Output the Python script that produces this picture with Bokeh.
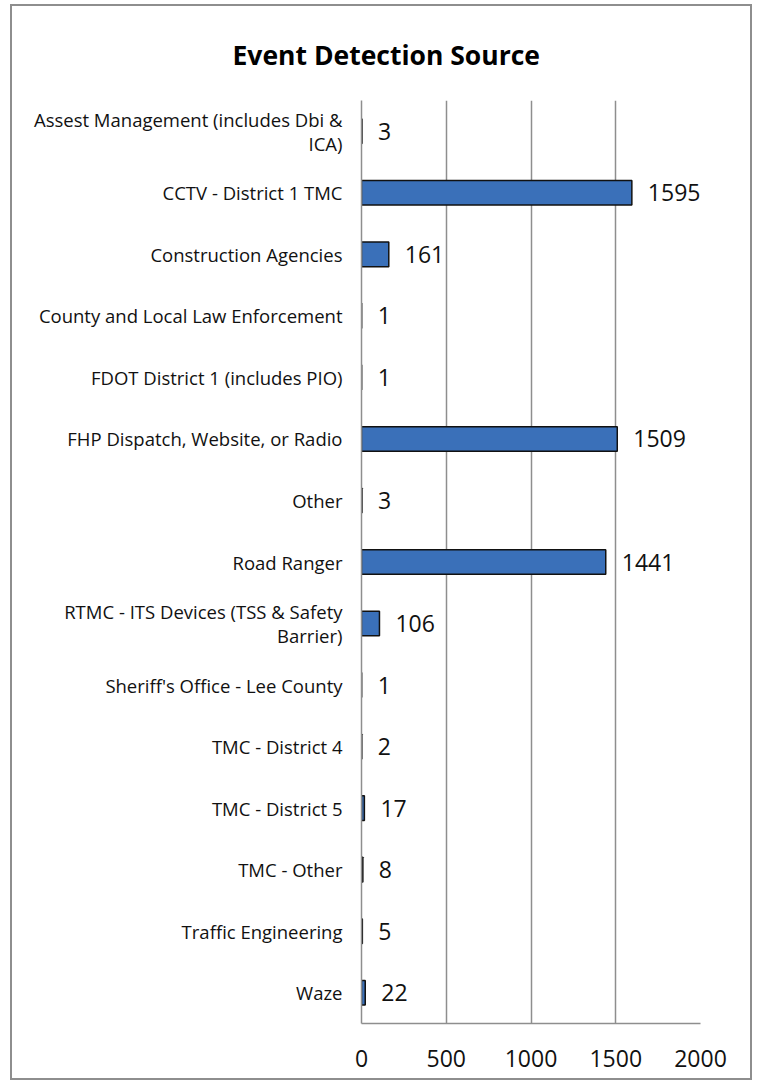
from bokeh.plotting import figure
from bokeh.models import ColumnDataSource, FactorRange, Range1d, FixedTicker
from bokeh.embed import file_html
from bokeh.resources import INLINE
from bokeh.core.properties import value

categories = [
    "Assest Management (includes Dbi &\nICA)",
    "CCTV - District 1 TMC",
    "Construction Agencies",
    "County and Local Law Enforcement",
    "FDOT District 1 (includes PIO)",
    "FHP Dispatch, Website, or Radio",
    "Other",
    "Road Ranger",
    "RTMC - ITS Devices (TSS & Safety\nBarrier)",
    "Sheriff's Office - Lee County",
    "TMC - District 4",
    "TMC - District 5",
    "TMC - Other",
    "Traffic Engineering",
    "Waze",
]
counts = [3, 1595, 161, 1, 1, 1509, 3, 1441, 106, 1, 2, 17, 8, 5, 22]
x_ticks = [0, 500, 1000, 1500, 2000]
title_text = "Event Detection Source"

FONT = "Open Sans"

src = ColumnDataSource(dict(cat=categories, val=counts, lab=[str(v) for v in counts]))

p = figure(
    width=742, height=1076,
    y_range=FactorRange(factors=list(reversed(categories)), range_padding=0),
    x_range=Range1d(0, 2000),
    output_backend="svg", toolbar_location=None,
    min_border_left=349, min_border_right=54, min_border_top=94, min_border_bottom=59,
    title=title_text,
)
p.margin = (4, 0, 0, 10)
p.title.align = "left"
p.title.offset = -129
p.title.standoff = 55
p.title.text_font = FONT
p.title.text_font_size = "26.5px"
p.title.text_font_style = "bold"
p.title.text_color = "#000000"
p.outline_line_color = None
p.background_fill_color = "white"
p.border_fill_color = "white"
p.styles = {"border": "2px solid #8e8e8e"}

p.hbar(y="cat", right="val", left=0, height=0.4, source=src,
       fill_color="#3a70b9", line_color="#111111", line_width=1.5)

p.text(x="val", y="cat", text="lab", source=src, x_offset=16,
       text_align="left", text_baseline="middle",
       text_font=value(FONT), text_font_size="23px", text_color="#111111")

p.xgrid.ticker = FixedTicker(ticks=x_ticks)
p.xgrid.grid_line_color = "#8e8e8e"
p.xgrid.grid_line_width = 1.5
p.ygrid.grid_line_color = None

p.xaxis.ticker = FixedTicker(ticks=x_ticks)
p.xaxis.major_tick_out = 0
p.xaxis.major_tick_in = 0
p.xaxis.minor_tick_out = 0
p.xaxis.minor_tick_in = 0
p.xaxis.axis_line_color = "#8e8e8e"
p.xaxis.axis_line_width = 1.5
p.xaxis.major_label_standoff = 26
p.xaxis.major_label_text_font = FONT
p.xaxis.major_label_text_font_size = "23px"
p.xaxis.major_label_text_color = "#111111"

p.yaxis.major_tick_out = 0
p.yaxis.major_tick_in = 0
p.yaxis.axis_line_color = "#8e8e8e"
p.yaxis.axis_line_width = 1.5
p.yaxis.major_label_standoff = 19
p.yaxis.major_label_text_font = FONT
p.yaxis.major_label_text_font_size = "18.5px"
p.yaxis.major_label_text_line_height = 0.95
p.yaxis.major_label_text_color = "#111111"

open("out.html", "w").write(file_html(p, INLINE))
